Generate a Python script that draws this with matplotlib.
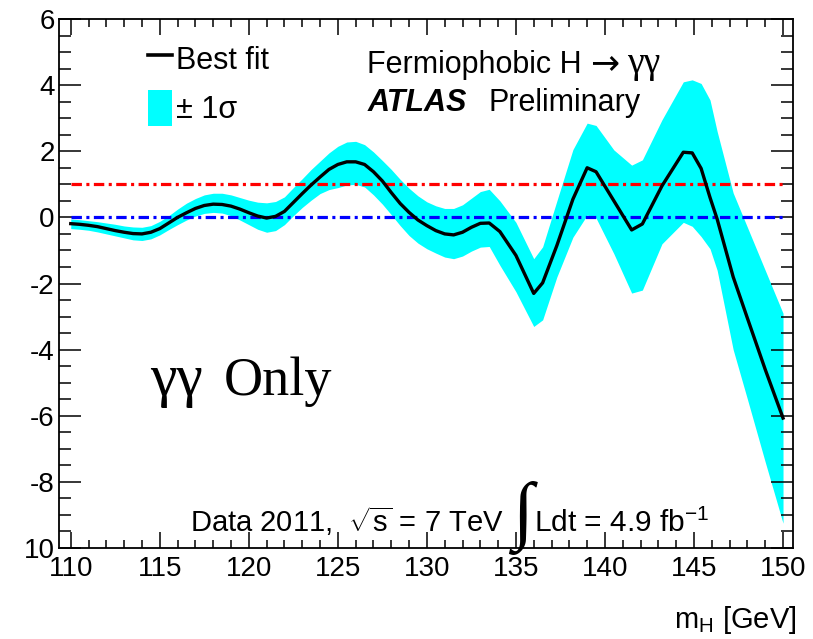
import matplotlib
matplotlib.use("Agg")
import matplotlib.pyplot as plt
from matplotlib.lines import Line2D
from matplotlib.patches import Patch
from matplotlib.ticker import FixedLocator, MultipleLocator

# ---------------- data ----------------
mass = [110, 110.5, 111, 111.5, 112, 112.5, 113, 113.5, 114, 114.5,
        115, 115.5, 116, 116.5, 117, 117.5, 118, 118.5, 119, 119.5,
        120, 120.5, 121, 121.5, 122, 122.5, 123, 123.5, 124, 124.5,
        125, 125.5, 126, 126.5, 127, 127.5, 128, 128.5, 129, 129.5,
        130, 130.5, 131, 131.5, 132, 132.5, 133, 133.5,
        134.1, 135, 136, 136.5, 137.3, 138.2, 139, 139.5, 140.5, 141.5,
        142.1, 143.2, 144.4, 144.9, 145.4, 145.9, 146.3, 147.2, 148, 149, 150]
best_fit = [-0.19, -0.21, -0.24, -0.28, -0.34, -0.40, -0.45, -0.49, -0.50, -0.45,
            -0.34, -0.17, 0.00, 0.14, 0.27, 0.36, 0.40, 0.39, 0.34, 0.25,
            0.14, 0.04, -0.02, 0.03, 0.18, 0.45, 0.72, 0.98, 1.22, 1.45,
            1.60, 1.68, 1.68, 1.60, 1.38, 1.10, 0.75, 0.42, 0.15, -0.08,
            -0.25, -0.40, -0.50, -0.53, -0.45, -0.30, -0.18, -0.17,
            -0.43, -1.15, -2.30, -1.98, -0.85, 0.55, 1.50, 1.38, 0.50, -0.38,
            -0.20, 0.95, 1.97, 1.95, 1.48, 0.60, -0.05, -1.80, -3.05, -4.60, -6.07]
band_up = [-0.05, -0.07, -0.10, -0.13, -0.17, -0.21, -0.26, -0.29, -0.30, -0.25,
           -0.12, 0.05, 0.25, 0.43, 0.57, 0.68, 0.73, 0.73, 0.68, 0.60,
           0.52, 0.46, 0.44, 0.48, 0.62, 0.90, 1.17, 1.45, 1.70, 1.95,
           2.15, 2.28, 2.30, 2.20, 1.98, 1.72, 1.45, 1.15, 0.88, 0.65,
           0.47, 0.35, 0.27, 0.27, 0.38, 0.58, 0.78, 0.85,
           0.50, -0.15, -1.25, -0.89, 0.50, 2.05, 2.85, 2.78, 2.04, 1.58,
           1.74, 2.95, 4.10, 4.16, 4.05, 3.55, 2.60, 0.74, -0.30, -1.60, -2.90]
band_lo = [-0.34, -0.36, -0.39, -0.44, -0.50, -0.56, -0.62, -0.68, -0.70, -0.65,
           -0.53, -0.37, -0.22, -0.08, 0.04, 0.12, 0.15, 0.13, 0.05, -0.08,
           -0.22, -0.36, -0.45, -0.40, -0.22, 0.05, 0.30, 0.52, 0.72, 0.84,
           0.90, 0.98, 1.00, 0.92, 0.68, 0.40, 0.08, -0.25, -0.55, -0.78,
           -0.95, -1.08, -1.20, -1.25, -1.17, -1.02, -0.90, -0.88,
           -1.45, -2.25, -3.30, -3.10, -1.80, -0.60, 0.07, -0.02, -1.10, -2.29,
           -2.20, -0.80, -0.15, -0.27, -0.58, -0.95, -1.60, -4.00, -5.50, -7.40, -9.25]
ref_levels = [1.0, 0.0]
ref_colors = ["#FF0000", "#0000FF"]
x_ticks = [110, 115, 120, 125, 130, 135, 140, 145, 150]
x_tick_labels = ["110", "115", "120", "125", "130", "135", "140", "145", "150"]
y_ticks = [-10, -8, -6, -4, -2, 0, 2, 4, 6]
y_tick_labels = ["10", "-8", "-6", "-4", "-2", "0", "2", "4", "6"]

# ---------------- style ----------------
plt.rcParams["font.family"] = ["Liberation Sans", "DejaVu Sans"]
plt.rcParams["mathtext.fontset"] = "custom"
plt.rcParams["mathtext.rm"] = "Liberation Sans"
plt.rcParams["mathtext.it"] = "Liberation Sans:italic"
plt.rcParams["mathtext.bf"] = "Liberation Sans:bold"
plt.rcParams["lines.scale_dashes"] = False

W, H = 813, 639
fig = plt.figure(figsize=(W / 100, H / 100), dpi=100)
ax = fig.add_axes([59 / W, 1 - 548 / H, (793 - 59) / W, (548 - 19) / H])


def fx(px):
    return px / W


def fy(py):
    return 1 - py / H


ax.fill_between(mass, band_lo, band_up, color="#00FFFF", lw=0, zorder=1)
for lvl, col in zip(ref_levels, ref_colors):
    ax.plot([mass[0], mass[-1]], [lvl, lvl], color=col, lw=2.3,
            ls=(0, (7.5, 3.2, 2.2, 3.2)), zorder=2)
ax.plot(mass, best_fit, color="black", lw=2.4, zorder=3)

ax.set_xlim(109.34, 150.56)
ax.set_ylim(-10, 6)

ax.xaxis.set_major_locator(FixedLocator(x_ticks))
ax.set_xticklabels(x_tick_labels)
ax.xaxis.set_minor_locator(MultipleLocator(1))
ax.yaxis.set_major_locator(FixedLocator(y_ticks))
ax.set_yticklabels(y_tick_labels)
ax.yaxis.set_minor_locator(MultipleLocator(0.5))

for sp in ax.spines.values():
    sp.set_linewidth(1.3)
ax.tick_params(which="both", direction="in", top=True, right=True,
               width=1.1, labelsize=20, colors="black")
ax.tick_params(axis="x", which="major", length=11.5, pad=5.5)
ax.tick_params(axis="x", which="minor", length=5.5)
ax.tick_params(axis="y", which="major", length=16, pad=3)
ax.tick_params(axis="y", which="minor", length=8.5)

# legend
handles = [Line2D([], [], color="black", lw=2.6),
           Patch(facecolor="#00FFFF", edgecolor="none")]
leg = ax.legend(handles, ["Best fit", "± 1σ"], loc="upper left",
                bbox_to_anchor=((148 - 59) / 734, (548 - 41) / 529),
                frameon=False, fontsize=22, handlelength=0.8,
                handleheight=1.45, handletextpad=0.1, labelspacing=0.42,
                borderpad=0, borderaxespad=0)

# texts
fig.text(fx(367), fy(73), "Fermiophobic H", fontsize=22,
         ha="left", va="baseline")
fig.text(fx(590), fy(73), "→", fontsize=25, family=["DejaVu Sans"],
         ha="left", va="baseline")
fig.text(fx(627), fy(73), "γγ", fontsize=27,
         family=["Liberation Serif", "DejaVu Serif"], ha="left",
         va="baseline")
fig.text(fx(368), fy(111), "ATLAS", fontsize=22, fontweight="bold",
         fontstyle="italic", ha="left", va="baseline")
fig.text(fx(488), fy(111), "Preliminary", fontsize=22, ha="left",
         va="baseline")
fig.text(fx(150), fy(395), "γγ", fontsize=43,
         family=["Liberation Serif", "DejaVu Serif"], ha="left",
         va="baseline")
fig.text(fx(224), fy(395), "Only", fontsize=39,
         family=["Liberation Serif", "DejaVu Serif"], ha="left",
         va="baseline")
fig.text(fx(190), fy(532), r"Data 2011,  $\sqrt{\mathrm{s}}$ = 7 TeV",
         fontsize=21, ha="left", va="baseline")
fig.text(fx(512), fy(518), "∫", fontsize=55,
         family=["Liberation Serif", "DejaVu Serif"], ha="left",
         va="center")
fig.text(fx(534), fy(532), r"Ldt = 4.9 fb$^{\mathrm{-1}}$", fontsize=21.5,
         ha="left", va="baseline")
fig.text(fx(797), fy(628), r"m$_{\mathrm{H}}$ [GeV]", fontsize=21,
         ha="right", va="baseline")

fig.savefig("out.png", dpi=100)
